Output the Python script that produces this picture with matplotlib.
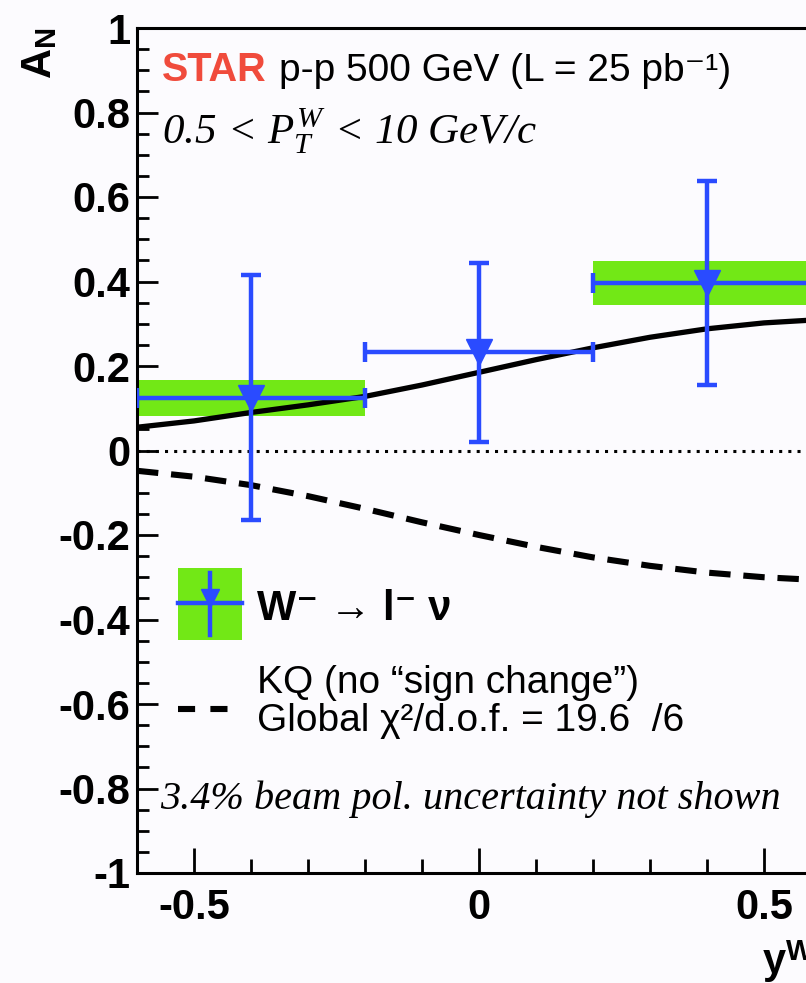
import matplotlib
matplotlib.use('Agg')
import matplotlib.pyplot as plt
from matplotlib.patches import Rectangle
from matplotlib.ticker import MultipleLocator, FixedLocator, FixedFormatter

# ---------------- data ----------------
bin_centers = [-0.4, 0.0, 0.4]
bin_halfwidths = [0.2, 0.2, 0.2]
asym = [0.125, 0.232, 0.396]
stat_err = [0.290, 0.211, 0.242]
sys_err = [0.043, 0.0, 0.052]

curve_x = [-0.6, -0.5, -0.4, -0.3, -0.2, -0.1, 0.0, 0.1, 0.2, 0.3, 0.4, 0.5, 0.6]
sign_change = [0.055, 0.070, 0.090, 0.108, 0.128, 0.155, 0.185, 0.215, 0.243, 0.268, 0.288, 0.302, 0.310]
kq_no_sign = [-0.048, -0.062, -0.082, -0.108, -0.138, -0.170, -0.200, -0.228, -0.253, -0.273, -0.289, -0.300, -0.307]

xticks = [-0.5, 0.0, 0.5]
xtick_labels = ['-0.5', '0', '0.5']
yticks = [-1.0, -0.8, -0.6, -0.4, -0.2, 0.0, 0.2, 0.4, 0.6, 0.8, 1.0]
ytick_labels = ['-1', '-0.8', '-0.6', '-0.4', '-0.2', '0', '0.2', '0.4', '0.6', '0.8', '1']

# ---------------- style ----------------
plt.rcParams['font.family'] = ['Liberation Sans', 'DejaVu Sans']
plt.rcParams['axes.unicode_minus'] = False
plt.rcParams['mathtext.fontset'] = 'custom'
plt.rcParams['mathtext.rm'] = 'Liberation Serif:italic'
plt.rcParams['mathtext.it'] = 'Liberation Serif:italic'
plt.rcParams['mathtext.bf'] = 'Liberation Sans:bold'

BLUE = '#2a4bff'
GREEN = '#72e816'
RED = '#f04b3c'
BG = '#fcfbfe'

W, H = 806, 983
fig = plt.figure(figsize=(W / 100, H / 100), dpi=100)
fig.patch.set_facecolor(BG)
ax = fig.add_axes([137 / W, 110 / H, 684 / W, 845 / H])
ax.set_facecolor(BG)
ax.set_xlim(-0.6, 0.6)
ax.set_ylim(-1, 1)

for s in ax.spines.values():
    s.set_linewidth(2.2)

# zero line
ax.axhline(0, color='black', lw=2.2, linestyle=(0, (1, 2.0)), zorder=1)

# systematic boxes
ax.bar(bin_centers, [2 * s for s in sys_err], width=[2 * w for w in bin_halfwidths],
       bottom=[a - s for a, s in zip(asym, sys_err)], color=GREEN, linewidth=0, zorder=2)

# theory curves
ax.plot(curve_x, sign_change, color='black', lw=3.8, zorder=3)
ax.plot(curve_x, kq_no_sign, color='black', lw=4.4, dashes=(3.5, 2.1), zorder=3)

# data
ax.errorbar(bin_centers, asym, xerr=bin_halfwidths, yerr=stat_err, fmt='v', color=BLUE,
            ms=19, elinewidth=3.2, capsize=7, capthick=3.2, zorder=4)

# ticks
ax.xaxis.set_major_locator(FixedLocator(xticks))
ax.xaxis.set_major_formatter(FixedFormatter(xtick_labels))
ax.yaxis.set_major_locator(FixedLocator(yticks))
ax.yaxis.set_major_formatter(FixedFormatter(ytick_labels))
ax.xaxis.set_minor_locator(MultipleLocator(0.1))
ax.yaxis.set_minor_locator(MultipleLocator(0.05))
ax.tick_params(axis='both', which='both', direction='in', top=False, right=False,
               width=2, labelsize=30)
ax.tick_params(axis='y', which='major', length=15, pad=5)
ax.tick_params(axis='y', which='minor', length=8.5)
ax.tick_params(axis='x', which='major', length=18, pad=11)
ax.tick_params(axis='x', which='minor', length=10)
for lbl in ax.get_xticklabels() + ax.get_yticklabels():
    lbl.set_fontweight('bold')


def axc(px, py):
    return ((px - 137) / 684, (873 - py) / 845)


# legend (drawn in axes fraction)
x0, y0 = axc(178, 640)
x1, y1 = axc(242, 568)
ax.add_patch(Rectangle((x0, y0), x1 - x0, y1 - y0, transform=ax.transAxes,
                       facecolor=GREEN, edgecolor='none', zorder=5))
a, b = axc(210, 573)
c, d = axc(210, 635)
ax.plot([a, c], [b, d], transform=ax.transAxes, color=BLUE, lw=3.2, zorder=6)
a, b = axc(178, 603)
c, d = axc(242, 603)
ax.plot([a, c], [b, d], transform=ax.transAxes, color=BLUE, lw=3.2, zorder=6)
a, b = axc(210, 598)
ax.plot([a], [b], marker='v', ms=13, color=BLUE, transform=ax.transAxes, zorder=7)
a, b = axc(178, 709)
c, d = axc(228, 709)
ax.plot([a, c], [b, d], transform=ax.transAxes, color='black', lw=4.4,
        dashes=(2.8, 2.5), zorder=6)

# texts
def ft(px, py, s, **kw):
    fig.text(px / W, 1 - py / H, s, va=kw.pop('va', 'baseline'), **kw)

ft(162, 81, 'STAR', color=RED, fontweight='bold', fontsize=28.5)
ft(279, 81, 'p-p 500 GeV (L = 25 pb⁻¹)', fontsize=28)
ft(162, 144, r'$0.5\,<\,P_{T}^{W}\,<\,10\ GeV/c$', fontsize=31)
ft(160, 809, '3.4% beam pol. uncertainty not shown', family='Liberation Serif',
   style='italic', fontsize=29)
ft(257, 620, 'W⁻ → l⁻ ν', fontsize=30, fontweight='bold')
ft(257, 693, 'KQ (no “sign change”)', fontsize=28)
ft(257, 731, 'Global χ²/d.o.f. = 19.6  /6', fontsize=28)
ft(40, 27, r'$\mathbf{A}_{\mathbf{N}}$', rotation=90, ha='center', va='top', fontsize=30)
ft(762, 974, r'$\mathbf{y}^{\mathbf{W}}$', fontsize=30)

fig.savefig('out.png', dpi=100, facecolor=BG)
